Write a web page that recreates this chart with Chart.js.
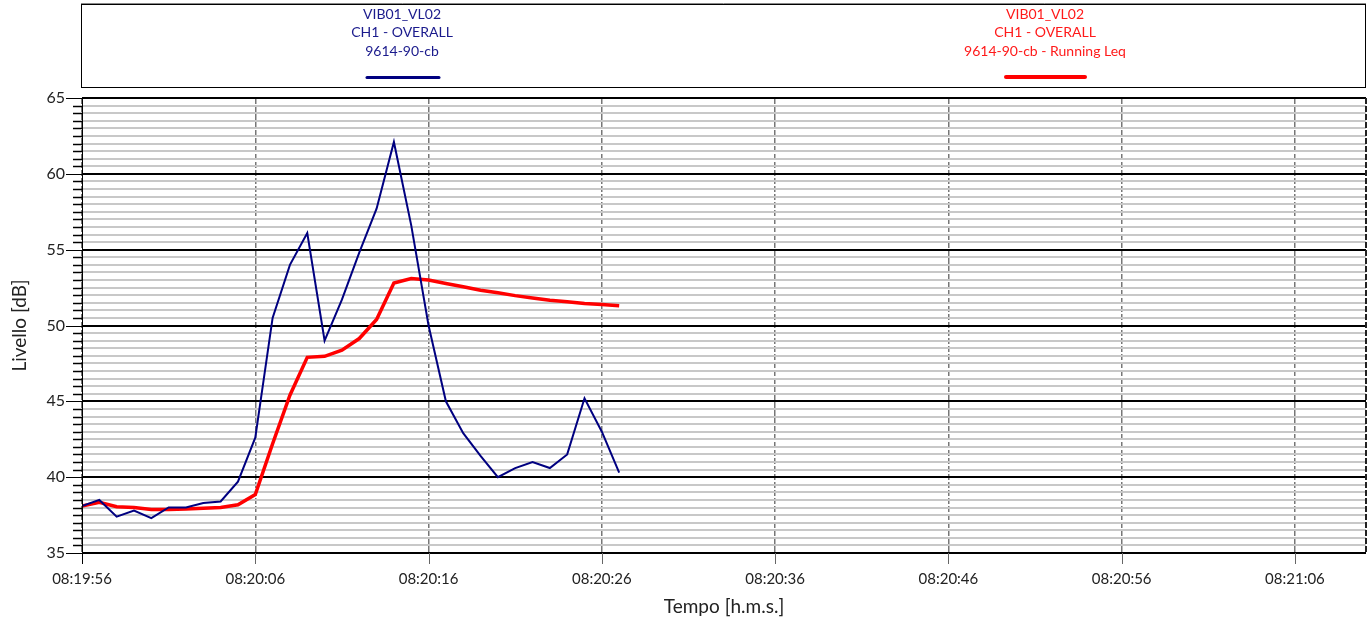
<!DOCTYPE html>
<html>
<head>
<meta charset="utf-8">
<script src="https://cdn.jsdelivr.net/npm/chart.js@4.4.1/dist/chart.umd.min.js"></script>
<style>
  html, body { margin: 0; padding: 0; background: #fff; }
  #wrap { width: 1367px; height: 620px; }
</style>
</head>
<body>
<div id="wrap"><canvas id="chart" width="1367" height="620"></canvas></div>
<script>
// secondi dall'inizio (08:19:56)
var secs = [0, 1, 2, 3, 4, 5, 6, 7, 8, 9, 10, 11, 12, 13, 14, 15,
            16, 17, 18, 19, 20, 21, 22, 23, 24, 25, 26, 27, 28, 29, 30, 31];

// VIB01_VL02 - CH1 - OVERALL
var overall = [38.1, 38.5, 37.4, 37.8, 37.3, 38.0, 38.0, 38.3, 38.4, 39.7,
               42.6, 50.5, 54.0, 56.1, 49.0, 51.7, 54.8, 57.7, 62.1, 56.6,
               50.0, 45.0, 42.9, 41.4, 40.0, 40.6, 41.0, 40.6, 41.5, 45.2,
               43.0, 40.3];

// Running Leq
var runningLeq = [38.1, 38.35, 38.05, 38.0, 37.87, 37.87, 37.9, 37.95, 38.0, 38.18,
                  38.86, 42.2, 45.4, 47.9, 47.97, 48.37, 49.14, 50.4, 52.8, 53.1,
                  53.0, 52.77, 52.55, 52.33, 52.16, 51.97, 51.82, 51.67, 51.56, 51.45,
                  51.38, 51.3];

var xTicks = ['08:19:56', '08:20:06', '08:20:16', '08:20:26', '08:20:36', '08:20:46', '08:20:56', '08:21:06'];

var FONT = 'Lato, "Open Sans", sans-serif';

function toPoints(vals) {
    return vals.map(function (v, i) { return { x: secs[i], y: v }; });
}

// legenda in alto + tacche asse y
var decorPlugin = {
    id: 'decor',
    afterDraw: function (chart) {
        var ctx = chart.ctx;
        var area = chart.chartArea;
        var ys = chart.scales.y;
        var xs = chart.scales.x;
        ctx.save();

        // riquadro legenda
        ctx.strokeStyle = '#000';
        ctx.lineWidth = 1;
        ctx.strokeRect(81.5, 4.5, 1284, 83);
        ctx.strokeStyle = '#888';
        ctx.beginPath(); ctx.moveTo(81, 3.5); ctx.lineTo(1366, 3.5); ctx.stroke();

        ctx.font = '14px ' + FONT;
        ctx.textAlign = 'center';
        ctx.textBaseline = 'middle';
        var blue = ['VIB01_VL02', 'CH1 - OVERALL', '9614-90-cb'];
        var red = ['VIB01_VL02', 'CH1 - OVERALL', '9614-90-cb - Running Leq'];
        var rowsY = [14, 32, 51];
        ctx.fillStyle = '#1a1a8c';
        blue.forEach(function (t, i) { ctx.fillText(t, 402, rowsY[i]); });
        ctx.fillStyle = '#ff1a1a';
        red.forEach(function (t, i) { ctx.fillText(t, 1045, rowsY[i]); });

        ctx.lineCap = 'round';
        ctx.strokeStyle = '#000080';
        ctx.lineWidth = 3;
        ctx.beginPath(); ctx.moveTo(367, 77.5); ctx.lineTo(439, 77.5); ctx.stroke();
        ctx.strokeStyle = '#ff0000';
        ctx.lineWidth = 4;
        ctx.beginPath(); ctx.moveTo(1006, 77); ctx.lineTo(1085, 77); ctx.stroke();

        // tacche asse y
        ctx.lineCap = 'butt';
        ctx.strokeStyle = '#000';
        for (var v = 35; v <= 65; v += 0.5) {
            var py = Math.round(ys.getPixelForValue(v)) + 0.5;
            var major = (v % 5 === 0);
            ctx.lineWidth = major ? 1 : 1.5;
            ctx.beginPath();
            ctx.moveTo(major ? area.left - 16 : area.left - 9, py);
            ctx.lineTo(area.left, py);
            ctx.stroke();
        }
        ctx.lineWidth = 1;
        ctx.beginPath();
        ctx.moveTo(area.left + 0.5, area.top);
        ctx.lineTo(area.left + 0.5, area.bottom + 11);
        ctx.stroke();

        // tacche asse x
        ctx.strokeStyle = '#666';
        for (var s = 10; s <= 70; s += 10) {
            var px = Math.round(xs.getPixelForValue(s)) + 0.5;
            ctx.beginPath();
            ctx.moveTo(px, area.bottom);
            ctx.lineTo(px, area.bottom + 11);
            ctx.stroke();
        }
        // bordo destro
        ctx.strokeStyle = '#222';
        ctx.lineWidth = 2;
        ctx.setLineDash([6, 2]);
        ctx.beginPath(); ctx.moveTo(area.right, area.top); ctx.lineTo(area.right, area.bottom); ctx.stroke();
        ctx.restore();
    }
};

var ctx = document.getElementById('chart').getContext('2d');
var chart = new Chart(ctx, {
    type: 'line',
    data: {
        datasets: [{
            label: 'VIB01_VL02 CH1 - OVERALL 9614-90-cb',
            data: toPoints(overall),
            borderColor: '#000080',
            borderWidth: 2,
            pointRadius: 0,
            tension: 0
        }, {
            label: 'VIB01_VL02 CH1 - OVERALL 9614-90-cb - Running Leq',
            data: toPoints(runningLeq),
            borderColor: '#ff0000',
            borderWidth: 3.5,
            pointRadius: 0,
            tension: 0
        }]
    },
    options: {
        responsive: false,
        animation: false,
        layout: { padding: { top: 98, right: 1, left: 8, bottom: 0 } },
        plugins: {
            legend: { display: false },
            tooltip: { enabled: false }
        },
        scales: {
            x: {
                type: 'linear',
                min: 0,
                max: 74.1,
                border: { display: false, dash: [6, 2] },
                grid: {
                    color: '#777',
                    lineWidth: 1.5,
                    drawTicks: false
                },
                ticks: {
                    stepSize: 10,
                    includeBounds: false,
                    padding: 17,
                    color: '#222',
                    font: { family: FONT, size: 15 },
                    maxRotation: 0,
                    callback: function (value) {
                        var i = Math.round(value / 10);
                        return xTicks[i] !== undefined ? xTicks[i] : '';
                    }
                },
                title: {
                    display: true,
                    text: 'Tempo [h.m.s.]',
                    color: '#222',
                    font: { family: FONT, size: 19 },
                    padding: { top: 2, bottom: 2 }
                },
                afterFit: function (scale) { scale.height = 67; }
            },
            y: {
                min: 35,
                max: 65,
                border: { display: false },
                grid: {
                    drawTicks: false,
                    color: function (c) {
                        return (c.tick && c.tick.value % 5 === 0) ? '#000' : '#c8c8c8';
                    },
                    lineWidth: 2
                },
                ticks: {
                    stepSize: 0.5,
                    autoSkip: false,
                    padding: 17,
                    color: '#222',
                    font: { family: FONT, size: 16 },
                    callback: function (value) {
                        return value % 5 === 0 ? String(value) : '';
                    }
                },
                title: {
                    display: true,
                    text: 'Livello [dB]',
                    color: '#222',
                    font: { family: FONT, size: 19 },
                    padding: { top: 0, bottom: 0 }
                },
                afterFit: function (scale) { scale.width = 74; }
            }
        }
    },
    plugins: [decorPlugin]
});
</script>
</body>
</html>
